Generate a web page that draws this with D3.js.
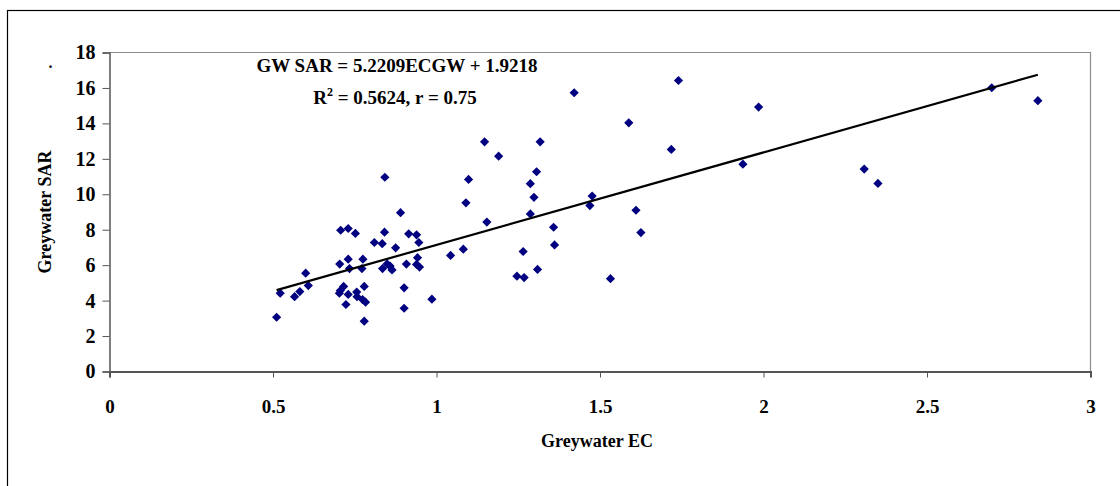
<!DOCTYPE html>
<html><head><meta charset="utf-8">
<script src="https://cdn.jsdelivr.net/npm/d3@7"></script>
<style>
html,body{margin:0;padding:0;background:#fff;}
svg{display:block;}
text{font-family:"Liberation Serif","Times New Roman",serif;font-weight:bold;fill:#000;}
</style></head>
<body>
<svg id="chart" width="1120" height="486"></svg>
<script>
// Greywater EC (x) values
const ecValues = [0.511,0.522,0.566,0.582,0.600,0.608,0.707,0.730,0.752,0.704,0.730,0.734,0.775,0.772,
  0.716,0.706,0.703,0.730,0.723,0.756,0.757,0.774,0.783,0.779,0.779,0.810,0.834,0.841,0.875,0.890,
  0.835,0.849,0.858,0.864,0.908,0.901,0.901,0.915,0.939,0.946,0.942,0.939,0.948,0.986,1.043,1.082,
  1.090,1.098,1.154,0.842,1.147,1.190,1.317,1.306,1.287,1.298,1.287,1.265,1.246,1.268,1.309,1.358,
  1.361,1.421,1.476,1.469,1.532,1.588,1.610,1.625,1.718,1.740,1.937,1.985,2.308,2.350,2.698,2.839];
// Greywater SAR (y) values
const sarValues = [3.06,4.42,4.22,4.51,5.55,4.85,7.97,8.07,7.79,6.06,6.34,5.81,6.34,5.81,
  4.80,4.57,4.42,4.35,3.78,4.48,4.22,4.06,3.91,4.80,2.84,7.28,7.21,7.86,6.98,8.96,
  5.81,6.07,5.95,5.73,6.06,4.72,3.57,7.77,7.71,7.28,6.42,6.04,5.89,4.08,6.55,6.90,
  9.52,10.84,8.43,10.96,12.96,12.15,12.96,11.27,10.60,9.83,8.89,6.77,5.38,5.30,5.76,8.14,
  7.14,15.73,9.90,9.36,5.24,14.03,9.10,7.84,12.53,16.42,11.70,14.92,11.42,10.61,16.01,15.28];
const xTicks = [0,0.5,1,1.5,2,2.5,3];
const xTickLabels = ["0","0.5","1","1.5","2","2.5","3"];
const yTicks = [0,2,4,6,8,10,12,14,16,18];
const slope = 5.2209, intercept = 1.9218;
const eqLine1 = "GW SAR = 5.2209ECGW + 1.9218";
const xTitle = "Greywater EC", yTitle = "Greywater SAR";

const svg = d3.select("#chart");
const L = 109.5, R = 1090.5, T = 52.5, B = 371.5;
const x = d3.scaleLinear().domain([0,3]).range([L,R]);
const y = d3.scaleLinear().domain([0,18]).range([B,T]);

// outer frame
svg.append("rect").attr("x",7.5).attr("y",10.5).attr("width",1140).attr("height",500)
  .attr("fill","none").attr("stroke","#000").attr("stroke-width",1.2);

// plot border (top/right)
svg.append("path").attr("d",`M${L},${T}H${R}V${B}`).attr("fill","none").attr("stroke","#8c8c8c").attr("stroke-width",1.2);

// axes
const xAxis = d3.axisBottom(x).tickValues(xTicks).tickFormat((d,i)=>xTickLabels[i]).tickSize(6).tickPadding(22);
const gx = svg.append("g").attr("transform",`translate(0,${B})`).call(xAxis);
gx.select(".domain").attr("stroke","#555").attr("stroke-width",2);
gx.selectAll(".tick line").attr("stroke","#555");
gx.selectAll("text").style("font-size","19px").style("font-family","'Liberation Serif',serif").style("font-weight","bold");

const yAxis = d3.axisLeft(y).tickValues(yTicks).tickSize(7).tickPadding(7);
const gy = svg.append("g").attr("transform",`translate(${L},0)`).call(yAxis);
gy.select(".domain").attr("stroke","#555").attr("stroke-width",1.5);
gy.selectAll(".tick line").attr("stroke","#555");
gy.selectAll("text").style("font-size","20px").style("font-family","'Liberation Serif',serif").style("font-weight","bold");

// points
const data = ecValues.map((v,i)=>({ec:v,sar:sarValues[i]}));
const d = 4.6;
svg.append("g").selectAll("path").data(data).join("path")
  .attr("d",`M0,${-d}L${d},0L0,${d}L${-d},0Z`)
  .attr("transform",p=>`translate(${x(p.ec)},${y(p.sar)})`)
  .attr("fill","#000080");

// trend line
const xmin = d3.min(ecValues), xmax = d3.max(ecValues);
svg.append("line")
  .attr("x1",x(xmin)).attr("y1",y(slope*xmin+intercept))
  .attr("x2",x(xmax)).attr("y2",y(slope*xmax+intercept))
  .attr("stroke","#000").attr("stroke-width",2.2);

// equation text
svg.append("text").attr("x",397).attr("y",72).attr("text-anchor","middle").style("font-size","19px").text(eqLine1);
const t2 = svg.append("text").attr("x",395).attr("y",104).attr("text-anchor","middle").style("font-size","19px");
t2.append("tspan").text("R");
t2.append("tspan").attr("dy",-8).style("font-size","12px").text("2");
t2.append("tspan").attr("dy",8).text(" = 0.5624, r = 0.75");

// axis titles
svg.append("text").attr("x",597).attr("y",447).attr("text-anchor","middle").style("font-size","18px").text(xTitle);
svg.append("text").attr("transform","translate(51,212) rotate(-90)").attr("text-anchor","middle").style("font-size","18px").text(yTitle);
svg.append("text").attr("x",50.5).attr("y",68).attr("text-anchor","middle").style("font-size","16px").text(".");
</script>
</body></html>
